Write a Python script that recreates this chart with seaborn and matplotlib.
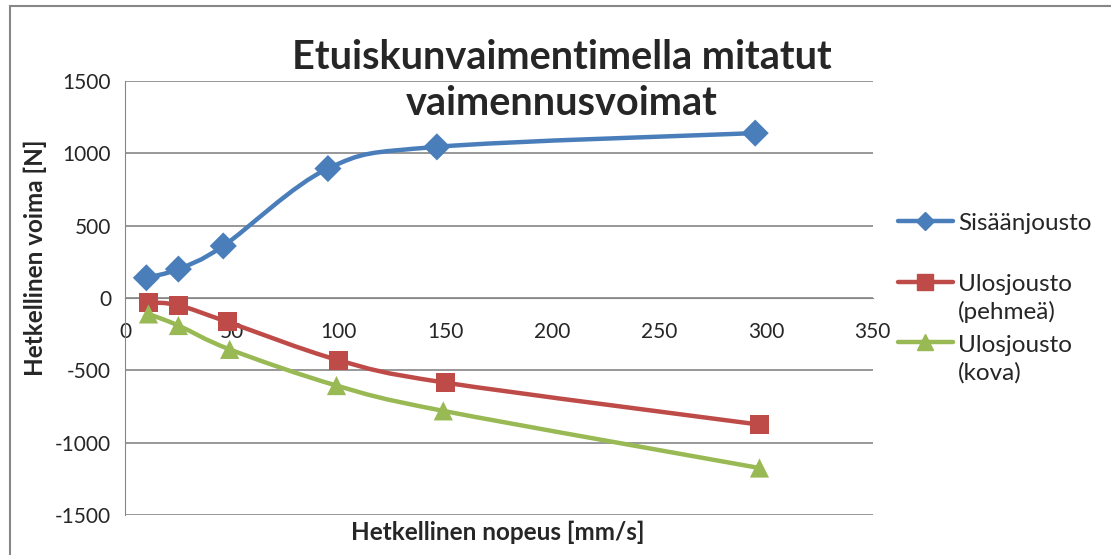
import numpy as np
import pandas as pd
import seaborn as sns
import matplotlib.pyplot as plt
from matplotlib.path import Path
from matplotlib.patches import PathPatch, Rectangle
from matplotlib.lines import Line2D
from matplotlib.legend_handler import HandlerLine2D

# Data
x_sisaan = [10, 25, 46, 95, 146, 295]
y_sisaan = [140, 200, 360, 895, 1045, 1140]
x_pehmea = [11, 25, 48, 100, 150, 297]
y_pehmea = [-30, -50, -165, -430, -585, -875]
x_kova = [11, 25, 49, 99, 149, 297]
y_kova = [-110, -190, -355, -605, -780, -1175]

labels = ["Sisäänjousto", "Ulosjousto\n(pehmeä)", "Ulosjousto\n(kova)"]
colors = ["#4A7EBB", "#BE4B48", "#98B954"]
markers = ["D", "s", "^"]

df = pd.concat([
    pd.DataFrame({"x": x_sisaan, "y": y_sisaan, "sarja": labels[0]}),
    pd.DataFrame({"x": x_pehmea, "y": y_pehmea, "sarja": labels[1]}),
    pd.DataFrame({"x": x_kova, "y": y_kova, "sarja": labels[2]}),
])

sns.set_style("white")
plt.rcParams['font.family'] = ['Lato', 'DejaVu Sans']
plt.rcParams['axes.unicode_minus'] = False

fig = plt.figure(figsize=(11.11, 5.55), dpi=100)
ax = fig.add_axes([0.1125, 0.072, 0.673, 0.782])


def smooth_path(xs, ys):
    # Excel-style smoothed line: cubic Bezier through the points
    pts = np.column_stack([xs, ys]).astype(float)
    n = len(pts)
    verts = [pts[0]]
    codes = [Path.MOVETO]
    for i in range(n - 1):
        p0 = pts[i - 1] if i > 0 else pts[i]
        p1 = pts[i]
        p2 = pts[i + 1]
        p3 = pts[i + 2] if i + 2 < n else pts[i + 1]
        c1 = p1 + (p2 - p0) / 6
        c2 = p2 - (p3 - p1) / 6
        verts += [c1, c2, p2]
        codes += [Path.CURVE4] * 3
    return Path(verts, codes)


for (xs, ys), c in zip([(x_sisaan, y_sisaan), (x_pehmea, y_pehmea), (x_kova, y_kova)], colors):
    ax.add_patch(PathPatch(smooth_path(xs, ys), facecolor="none", edgecolor=c,
                           lw=3.2, capstyle="round", joinstyle="round", zorder=3))

sns.scatterplot(data=df, x="x", y="y", hue="sarja", style="sarja",
                palette=dict(zip(labels, colors)), markers=dict(zip(labels, markers)),
                s=190, edgecolor="none", legend=False, ax=ax, zorder=4)

ax.set_xlim(0, 350)
ax.set_ylim(-1500, 1500)
ax.set_xticks(range(0, 351, 50))
ax.set_yticks(range(-1500, 1501, 500))
ax.yaxis.grid(True, color="#868686", lw=1.2)
ax.set_axisbelow(True)
for s in ["top", "right"]:
    ax.spines[s].set_visible(False)
ax.spines["bottom"].set_position(("data", 0))
ax.spines["bottom"].set_color("#868686")
ax.spines["left"].set_color("#868686")
ax.tick_params(axis="both", labelsize=15, color="#868686", length=6, width=1.2)
ax.tick_params(axis="x", direction="out", pad=11)
ax.tick_params(axis="y", pad=4)

ax.set_xlabel("")
ax.set_ylabel("")
fig.text(0.032, 0.535, "Hetkellinen voima [N]", fontsize=17.5, fontweight="bold",
         rotation=90, ha="center", va="center")
fig.text(0.448, 0.04, "Hetkellinen nopeus [mm/s]", fontsize=17.5, fontweight="bold",
         ha="center", va="center")
fig.text(0.506, 0.855, "Etuiskunvaimentimella mitatut\nvaimennusvoimat", fontsize=28.5,
         fontweight="bold", ha="center", va="center", linespacing=1.33)


class TopLine(HandlerLine2D):
    # put the legend key next to the first line of a two-line label
    def __init__(self, shift, **kw):
        super().__init__(**kw)
        self.shift = shift

    def create_artists(self, legend, orig_handle, xdescent, ydescent, width, height,
                       fontsize, trans):
        return super().create_artists(legend, orig_handle, xdescent, ydescent - 2 * self.shift,
                                      width, height, fontsize, trans)


leg_fs = 17.5
leg_ls = 1.36
leg_y = [1 - 223 / 555, 1 - 298.5 / 555, 1 - 359 / 555]
for i, (c, m, ms, lab) in enumerate(zip(colors, markers, [9, 11, 11], labels)):
    h = Line2D([], [], color=c, marker=m, lw=3.2, markersize=ms)
    shift = 0 if i == 0 else 0.5 * leg_ls * leg_fs
    leg = fig.legend([h], [lab], loc="center left", bbox_to_anchor=(898 / 1111, leg_y[i]),
                     frameon=False, fontsize=leg_fs, handlelength=2.26, handletextpad=0.2,
                     borderpad=0, borderaxespad=0, handler_map={h: TopLine(shift)})
    for t in leg.get_texts():
        t.set_linespacing(leg_ls)

fig.patches.append(Rectangle((10 / 1111, -0.05), 1.1, 1.05 - 6 / 555, transform=fig.transFigure,
                             fill=False, edgecolor="#878787", lw=1.5))

fig.savefig("out.png", dpi=100)
